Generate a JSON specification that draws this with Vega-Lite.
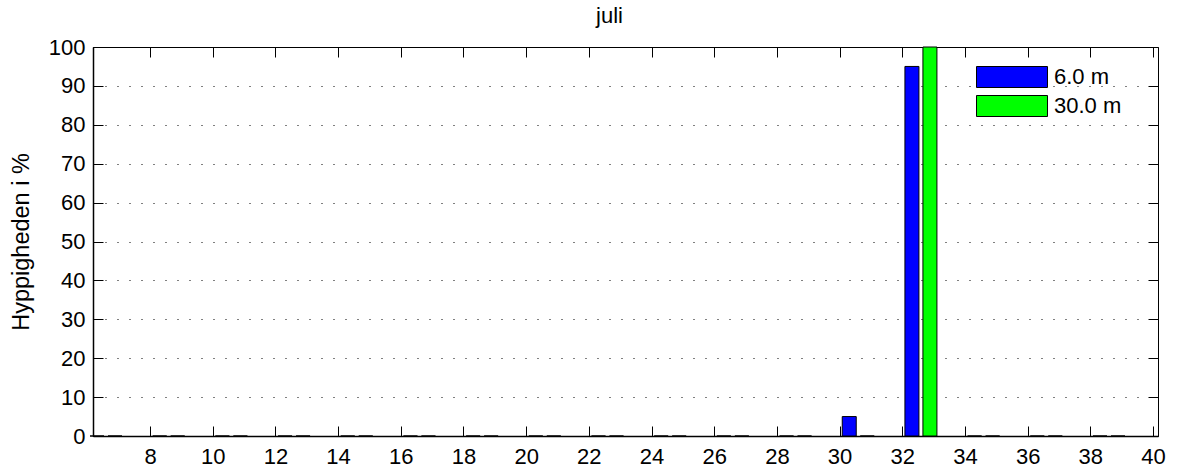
{
  "$schema": "https://vega.github.io/schema/vega-lite/v6.json",
  "autosize": "none",
  "width": 1065,
  "height": 389,
  "padding": {"left": 93, "top": 47, "right": 24, "bottom": 38},
  "background": "white",
  "config": {
    "font": "Liberation Sans",
    "view": {"stroke": "black", "strokeWidth": 1},
    "axis": {"labelFont": "Liberation Sans", "titleFont": "Liberation Sans", "labelColor": "black", "titleColor": "black", "domainColor": "black", "tickColor": "black"}
  },
  "title": {"text": "juli", "fontSize": 22, "fontWeight": "normal", "font": "Liberation Sans", "color": "black", "offset": 8, "dx": -16},
  "data": {
    "values": [
      {"bin": 6.5, "series": "6.0 m", "pct": 0}, {"bin": 6.5, "series": "30.0 m", "pct": 0},
      {"bin": 8.5, "series": "6.0 m", "pct": 0}, {"bin": 8.5, "series": "30.0 m", "pct": 0},
      {"bin": 10.5, "series": "6.0 m", "pct": 0}, {"bin": 10.5, "series": "30.0 m", "pct": 0},
      {"bin": 12.5, "series": "6.0 m", "pct": 0}, {"bin": 12.5, "series": "30.0 m", "pct": 0},
      {"bin": 14.5, "series": "6.0 m", "pct": 0}, {"bin": 14.5, "series": "30.0 m", "pct": 0},
      {"bin": 16.5, "series": "6.0 m", "pct": 0}, {"bin": 16.5, "series": "30.0 m", "pct": 0},
      {"bin": 18.5, "series": "6.0 m", "pct": 0}, {"bin": 18.5, "series": "30.0 m", "pct": 0},
      {"bin": 20.5, "series": "6.0 m", "pct": 0}, {"bin": 20.5, "series": "30.0 m", "pct": 0},
      {"bin": 22.5, "series": "6.0 m", "pct": 0}, {"bin": 22.5, "series": "30.0 m", "pct": 0},
      {"bin": 24.5, "series": "6.0 m", "pct": 0}, {"bin": 24.5, "series": "30.0 m", "pct": 0},
      {"bin": 26.5, "series": "6.0 m", "pct": 0}, {"bin": 26.5, "series": "30.0 m", "pct": 0},
      {"bin": 28.5, "series": "6.0 m", "pct": 0}, {"bin": 28.5, "series": "30.0 m", "pct": 0},
      {"bin": 30.5, "series": "6.0 m", "pct": 5}, {"bin": 30.5, "series": "30.0 m", "pct": 0},
      {"bin": 32.5, "series": "6.0 m", "pct": 95}, {"bin": 32.5, "series": "30.0 m", "pct": 100},
      {"bin": 34.5, "series": "6.0 m", "pct": 0}, {"bin": 34.5, "series": "30.0 m", "pct": 0},
      {"bin": 36.5, "series": "6.0 m", "pct": 0}, {"bin": 36.5, "series": "30.0 m", "pct": 0},
      {"bin": 38.5, "series": "6.0 m", "pct": 0}, {"bin": 38.5, "series": "30.0 m", "pct": 0}
    ]
  },
  "layer": [
    {
      "transform": [{"filter": "datum.series === '6.0 m'"}],
      "mark": {"type": "bar", "width": 14, "xOffset": -6, "stroke": "black", "strokeWidth": 1},
      "encoding": {
        "x": {"field": "bin", "type": "quantitative",
          "scale": {"domain": [6.34, 40], "nice": false, "zero": false},
          "axis": {"orient": "bottom", "title": null, "values": [8,10,12,14,16,18,20,22,24,26,28,30,32,34,36,38,40], "labelFontSize": 22, "tickSize": -10, "labelPadding": 20, "grid": false, "domainWidth": 1.5, "labelFlush": false}},
        "y": {"field": "pct", "type": "quantitative",
          "scale": {"domain": [0, 100], "nice": false},
          "axis": {"orient": "left", "title": "Hyppigheden i %", "titleFontSize": 23.5, "titleFontWeight": "normal", "titlePadding": 15, "values": [0,10,20,30,40,50,60,70,80,90,100], "labelFontSize": 22, "tickSize": -10, "labelPadding": 18, "grid": true, "gridColor": "black", "gridDash": [1, 11], "gridOpacity": 1, "domainWidth": 1.5, "labelFlush": false}},
        "fill": {"field": "series", "type": "nominal",
          "scale": {"domain": ["6.0 m", "30.0 m"], "range": ["#0000ff", "#00ff00"]},
          "legend": {"title": null, "orient": "none", "legendX": 908, "legendY": 19, "padding": 0,
            "symbolType": "M-3.38,-1H3.38V1H-3.38Z", "symbolSize": 441, "symbolStrokeColor": "black", "symbolStrokeWidth": 1, "symbolOpacity": 1,
            "labelFontSize": 22, "labelFont": "Liberation Sans", "labelColor": "black", "labelOffset": 31, "rowPadding": 3}}
      }
    },
    {
      "transform": [{"filter": "datum.series === '30.0 m'"}],
      "mark": {"type": "bar", "width": 14, "xOffset": 12, "stroke": "black", "strokeWidth": 1},
      "encoding": {
        "x": {"field": "bin", "type": "quantitative",
          "axis": {"orient": "top", "title": null, "labels": false, "values": [8,10,12,14,16,18,20,22,24,26,28,30,32,34,36,38,40], "tickSize": -10, "grid": false, "domain": false}},
        "y": {"field": "pct", "type": "quantitative",
          "axis": {"orient": "right", "title": null, "labels": false, "values": [0,10,20,30,40,50,60,70,80,90,100], "tickSize": -10, "grid": false, "domain": false}},
        "fill": {"field": "series", "type": "nominal"}
      }
    }
  ],
  "resolve": {"axis": {"x": "independent", "y": "independent"}}
}
